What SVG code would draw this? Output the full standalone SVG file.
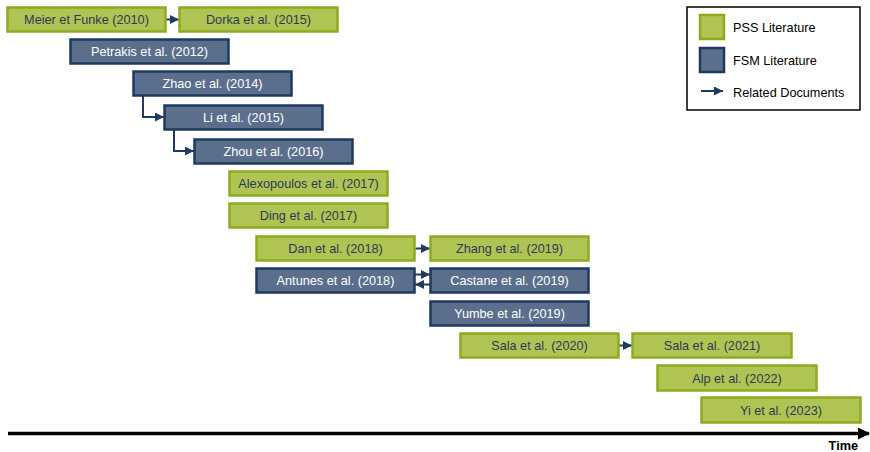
<svg xmlns="http://www.w3.org/2000/svg" width="870" height="452" viewBox="0 0 870 452">
<defs>
<style>
.pss{fill:#b0c454;stroke:#8cac1e;stroke-width:2.5}
.fsm{fill:#5b6f8d;stroke:#1e3a5e;stroke-width:2.5}
.tp{font-family:"Liberation Sans",Arial,sans-serif;font-size:12.7px;fill:#2b3a55;text-anchor:middle}
.tf{font-family:"Liberation Sans",Arial,sans-serif;font-size:12.7px;fill:#ffffff;text-anchor:middle}
.tl{font-family:"Liberation Sans",Arial,sans-serif;font-size:12.7px;fill:#000000}
.con{fill:none;stroke:#1e3a5e;stroke-width:2}
</style>
<marker id="ah" viewBox="0 0 10 10" refX="10" refY="5" markerWidth="4.5" markerHeight="4.5" orient="auto" markerUnits="strokeWidth">
<path d="M0,0 L10,5 L0,10 z" fill="#1e3a5e"/>
</marker>
<marker id="tah" viewBox="0 0 10 10" refX="9" refY="5" markerWidth="3.5" markerHeight="3.5" orient="auto" markerUnits="strokeWidth">
<path d="M0,0 L10,5 L0,10 z" fill="#000"/>
</marker>
</defs>
<rect width="870" height="452" fill="#fff"/>

<g id="legend">
<rect x="687" y="7" width="173" height="103" fill="#fff" stroke="#000" stroke-width="1.5"/>
<rect class="pss" x="700" y="15" width="24" height="24"/>
<text class="tl" x="733" y="31.5">PSS Literature</text>
<rect class="fsm" x="700" y="48" width="24" height="24"/>
<text class="tl" x="733" y="64.5">FSM Literature</text>
<line class="con" x1="701" y1="91" x2="723" y2="91" marker-end="url(#ah)"/>
<text class="tl" x="733" y="96.5">Related Documents</text>
</g>

<g id="connectors">
<line class="con" x1="166" y1="19.5" x2="179" y2="19.5" marker-end="url(#ah)"/>
<polyline class="con" points="143,96 143,117 164,117" marker-end="url(#ah)"/>
<polyline class="con" points="174,129 174,151 194,151" marker-end="url(#ah)"/>
<line class="con" x1="415" y1="248.5" x2="430" y2="248.5" marker-end="url(#ah)"/>
<line class="con" x1="415" y1="274.5" x2="430" y2="274.5" marker-end="url(#ah)"/>
<line class="con" x1="430" y1="284.5" x2="415" y2="284.5" marker-end="url(#ah)"/>
<line class="con" x1="619" y1="345.5" x2="632" y2="345.5" marker-end="url(#ah)"/>
</g>

<g id="meier"><rect class="pss" x="7.5" y="7.5" width="158" height="24"/><text class="tp" x="86.5" y="24">Meier et Funke (2010)</text></g>
<g id="dorka"><rect class="pss" x="179.5" y="7.5" width="158" height="24"/><text class="tp" x="258.5" y="24">Dorka et al. (2015)</text></g>
<g id="petrakis"><rect class="fsm" x="70.5" y="39.5" width="158" height="24"/><text class="tf" x="149.5" y="56">Petrakis et al. (2012)</text></g>
<g id="zhao"><rect class="fsm" x="133.5" y="71.5" width="158" height="24"/><text class="tf" x="212.5" y="88">Zhao et al. (2014)</text></g>
<g id="li"><rect class="fsm" x="164.5" y="105.5" width="158" height="24"/><text class="tf" x="243.5" y="122">Li et al. (2015)</text></g>
<g id="zhou"><rect class="fsm" x="194.5" y="139.5" width="158" height="24"/><text class="tf" x="273.5" y="156">Zhou et al. (2016)</text></g>
<g id="alexopoulos"><rect class="pss" x="229.5" y="171.5" width="158" height="24"/><text class="tp" x="308.5" y="188">Alexopoulos et al. (2017)</text></g>
<g id="ding"><rect class="pss" x="229.5" y="203.5" width="158" height="24"/><text class="tp" x="308.5" y="220">Ding et al. (2017)</text></g>
<g id="dan"><rect class="pss" x="256.5" y="236.5" width="158" height="24"/><text class="tp" x="335.5" y="253">Dan et al. (2018)</text></g>
<g id="zhang"><rect class="pss" x="430.5" y="236.5" width="158" height="24"/><text class="tp" x="509.5" y="253">Zhang et al. (2019)</text></g>
<g id="antunes"><rect class="fsm" x="256.5" y="268.5" width="158" height="24"/><text class="tf" x="335.5" y="285">Antunes et al. (2018)</text></g>
<g id="castane"><rect class="fsm" x="430.5" y="268.5" width="158" height="24"/><text class="tf" x="509.5" y="285">Castane et al. (2019)</text></g>
<g id="yumbe"><rect class="fsm" x="430.5" y="301.5" width="158" height="24"/><text class="tf" x="509.5" y="318">Yumbe et al. (2019)</text></g>
<g id="sala2020"><rect class="pss" x="460.5" y="333.5" width="158" height="24"/><text class="tp" x="539.5" y="350">Sala et al. (2020)</text></g>
<g id="sala2021"><rect class="pss" x="632.5" y="333.5" width="159" height="24"/><text class="tp" x="712" y="350">Sala et al. (2021)</text></g>
<g id="alp"><rect class="pss" x="657.5" y="365.5" width="159" height="25"/><text class="tp" x="737" y="383">Alp et al. (2022)</text></g>
<g id="yi"><rect class="pss" x="701.5" y="397.5" width="159" height="25"/><text class="tp" x="781" y="415">Yi et al. (2023)</text></g>

<g id="timeline">
<line x1="8" y1="433.5" x2="869" y2="433.5" stroke="#000" stroke-width="3.5" marker-end="url(#tah)"/>
<text x="858" y="450" font-family="Liberation Sans,Arial,sans-serif" font-size="12.7" font-weight="bold" text-anchor="end" fill="#000">Time</text>
</g>
</svg>
